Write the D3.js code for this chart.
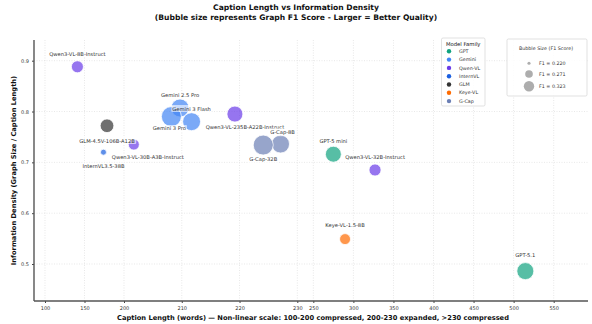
<html>
<head>
<meta charset="utf-8" />
<title>Caption Length vs Information Density</title>
<script src="https://cdn.jsdelivr.net/npm/d3@7"></script>
<style>
  body { margin: 0; background: #fff; }
  text { font-family: "DejaVu Sans", sans-serif; }
</style>
</head>
<body>
<script>
// data
var models   = ["Qwen3-VL-8B-Instruct","GLM-4.5V-106B-A12B","InternVL3.5-38B","Qwen3-VL-30B-A3B-Instruct",
                "Gemini 2.5 Pro","Gemini 3 Pro","Gemini 3 Flash","Qwen3-VL-235B-A22B-Instruct",
                "G-Cap-8B","G-Cap-32B","GPT-5 mini","Qwen3-VL-32B-Instruct","Keye-VL-1.5-8B","GPT-5.1"];
var family   = ["Qwen-VL","GLM","InternVL","Qwen-VL","Gemini","Gemini","Gemini","Qwen-VL",
                "G-Cap","G-Cap","GPT","Qwen-VL","Keye-VL","GPT"];
var capLen   = [141, 178.5, 174, 201.7, 209.7, 208.2, 211.7, 219.2, 227.1, 224.1, 275, 327, 289.6, 514.6];
var density  = [0.888, 0.772, 0.720, 0.735, 0.807, 0.790, 0.780, 0.795, 0.736, 0.734, 0.716, 0.685, 0.549, 0.486];
var f1       = [0.251, 0.263, 0.220, 0.244, 0.301, 0.323, 0.301, 0.282, 0.301, 0.323, 0.282, 0.251, 0.244, 0.292];

var families = ["GPT","Gemini","Qwen-VL","InternVL","GLM","Keye-VL","G-Cap"];
var famColors = ["#10a37f","#4285f4","#6a3be8","#1a5fe0","#333333","#ff6b00","#6b7fb5"];
var xTicks = [100,150,200,210,220,230,250,300,350,400,450,500,550];
var yTicks = [0.5,0.6,0.7,0.8,0.9];
var f1Legend = [0.220, 0.271, 0.323];

// label offsets (px) relative to bubble centre
var labelOff = [[0,-13],[0,15],[0,14],[14,13],[0,-13],[-2,12],[0,-13],[10,13],
                [2,-12],[0,14],[0,-13],[0,-13],[0,-14],[0,-16]];

var W = 592, H = 324;
var pL = 34, pR = 588, pT = 40, pB = 301;

var svg = d3.select("body").append("svg").attr("width", W).attr("height", H);

// piecewise caption-length scale
var x = d3.scaleLinear().domain([100,200,230,550]).range([45,124,297.3,553.7]);
var y = d3.scaleLinear().domain([0.5,0.9]).range([264,60.7]);
var color = d3.scaleOrdinal().domain(families).range(famColors);
// bubble area grows linearly with F1
var r = function(v) { return Math.sqrt(9 + (v-0.220)/0.103*91); };

// grid
var grid = svg.append("g");
grid.selectAll(".gx").data(xTicks).enter().append("line")
  .attr("x1", d=>x(d)).attr("x2", d=>x(d)).attr("y1", pT).attr("y2", pB)
  .attr("stroke","#d9d9d9").attr("stroke-width",0.6).attr("stroke-dasharray","1,1.5");
grid.selectAll(".gy").data(yTicks).enter().append("line")
  .attr("x1", pL).attr("x2", pR).attr("y1", d=>y(d)).attr("y2", d=>y(d))
  .attr("stroke","#d9d9d9").attr("stroke-width",0.6).attr("stroke-dasharray","1,1.5");

// axes
var xa = svg.append("g").attr("transform","translate(0,"+pB+")")
  .call(d3.axisBottom(x).tickValues(xTicks).tickSize(2).tickPadding(3).tickFormat(d3.format("d")));
var ya = svg.append("g").attr("transform","translate("+pL+",0)")
  .call(d3.axisLeft(y).tickValues(yTicks).tickSize(2).tickPadding(3).tickFormat(d3.format(".1f")));
[xa,ya].forEach(function(a) {
  a.select(".domain").remove();
  a.selectAll("line").attr("stroke","#444");
  a.selectAll("text").attr("font-size","5px").attr("fill","#333").attr("font-family","DejaVu Sans");
});

// spines
svg.append("line").attr("x1",pL).attr("x2",pL).attr("y1",pT).attr("y2",pB)
  .attr("stroke","#555").attr("stroke-width",1.4);
svg.append("line").attr("x1",pL).attr("x2",pR).attr("y1",pB).attr("y2",pB)
  .attr("stroke","#555").attr("stroke-width",1.4);

// bubbles
var pts = models.map(function(m,i){ return {name:m, fam:family[i], cx:capLen[i], cy:density[i], f1:f1[i], off:labelOff[i]}; });
svg.append("g").selectAll("circle").data(pts).enter().append("circle")
  .attr("cx", d=>x(d.cx)).attr("cy", d=>y(d.cy)).attr("r", d=>r(d.f1))
  .attr("fill", d=>color(d.fam)).attr("fill-opacity",0.7)
  .attr("stroke","#fff").attr("stroke-width",0.8);

// labels
var lab = svg.append("g").selectAll("g").data(pts).enter().append("g")
  .attr("transform", d=>"translate("+(x(d.cx)+d.off[0])+","+(y(d.cy)+d.off[1])+")");
lab.append("text").attr("text-anchor","middle").attr("dy","0.35em")
  .attr("font-size","5.2px").attr("fill","#333").text(d=>d.name);
lab.each(function() {
  var g = d3.select(this), b = g.select("text").node().getBBox();
  g.insert("rect","text").attr("x",b.x-1).attr("y",b.y-0.5).attr("width",b.width+2).attr("height",b.height+1)
    .attr("fill","#fff").attr("fill-opacity",0.6).attr("rx",1);
});

// titles
svg.append("text").attr("x",296).attr("y",10).attr("text-anchor","middle")
  .attr("font-size","7.6px").attr("font-weight","bold").attr("fill","#111")
  .text("Caption Length vs Information Density");
svg.append("text").attr("x",296).attr("y",19.5).attr("text-anchor","middle")
  .attr("font-size","7.6px").attr("font-weight","bold").attr("fill","#111")
  .text("(Bubble size represents Graph F1 Score - Larger = Better Quality)");
svg.append("text").attr("x",313).attr("y",320).attr("text-anchor","middle")
  .attr("font-size","6.7px").attr("font-weight","bold").attr("fill","#111")
  .text("Caption Length (words)  \u2014  Non-linear scale: 100-200 compressed, 200-230 expanded, >230 compressed");
svg.append("text").attr("transform","translate(16,"+((pT+pB)/2)+") rotate(-90)")
  .attr("text-anchor","middle").attr("font-size","6.7px").attr("font-weight","bold").attr("fill","#111")
  .text("Information Density (Graph Size / Caption Length)");

// family legend
var lg = svg.append("g").attr("transform","translate(441.5,38)");
lg.append("rect").attr("width",43.5).attr("height",68).attr("rx",1.5)
  .attr("fill","#fff").attr("fill-opacity",0.85).attr("stroke","#ccc").attr("stroke-width",0.6);
lg.append("text").attr("x",21.7).attr("y",7.8).attr("text-anchor","middle")
  .attr("font-size","5.3px").attr("fill","#111").text("Model Family");
var le = lg.selectAll(".le").data(families).enter().append("g")
  .attr("transform", (d,i)=>"translate(7.5,"+(13.3+i*8.3)+")");
le.append("circle").attr("r",2.2).attr("fill", d=>color(d));
le.append("text").attr("x",10).attr("dy","0.35em").attr("font-size","4.8px").attr("fill","#333").text(d=>d);

// size legend
var sg = svg.append("g").attr("transform","translate(507,39)");
sg.append("rect").attr("width",80).attr("height",57).attr("rx",1.5)
  .attr("fill","#fff").attr("fill-opacity",0.85).attr("stroke","#ccc").attr("stroke-width",0.6);
sg.append("text").attr("x",39).attr("y",11).attr("text-anchor","middle")
  .attr("font-size","4.8px").attr("fill","#333").text("Bubble Size (F1 Score)");
var se = sg.selectAll(".se").data(f1Legend).enter().append("g")
  .attr("transform", (d,i)=>"translate(22,"+[24.3,35,47.3][i]+")");
se.append("circle").attr("r", d=>r(d)*0.52).attr("fill","#999").attr("fill-opacity",0.8);
se.append("text").attr("x",10).attr("dy","0.35em").attr("font-size","4.8px").attr("fill","#333")
  .text(d=>"F1 = "+d3.format(".3f")(d));
</script>
</body>
</html>
